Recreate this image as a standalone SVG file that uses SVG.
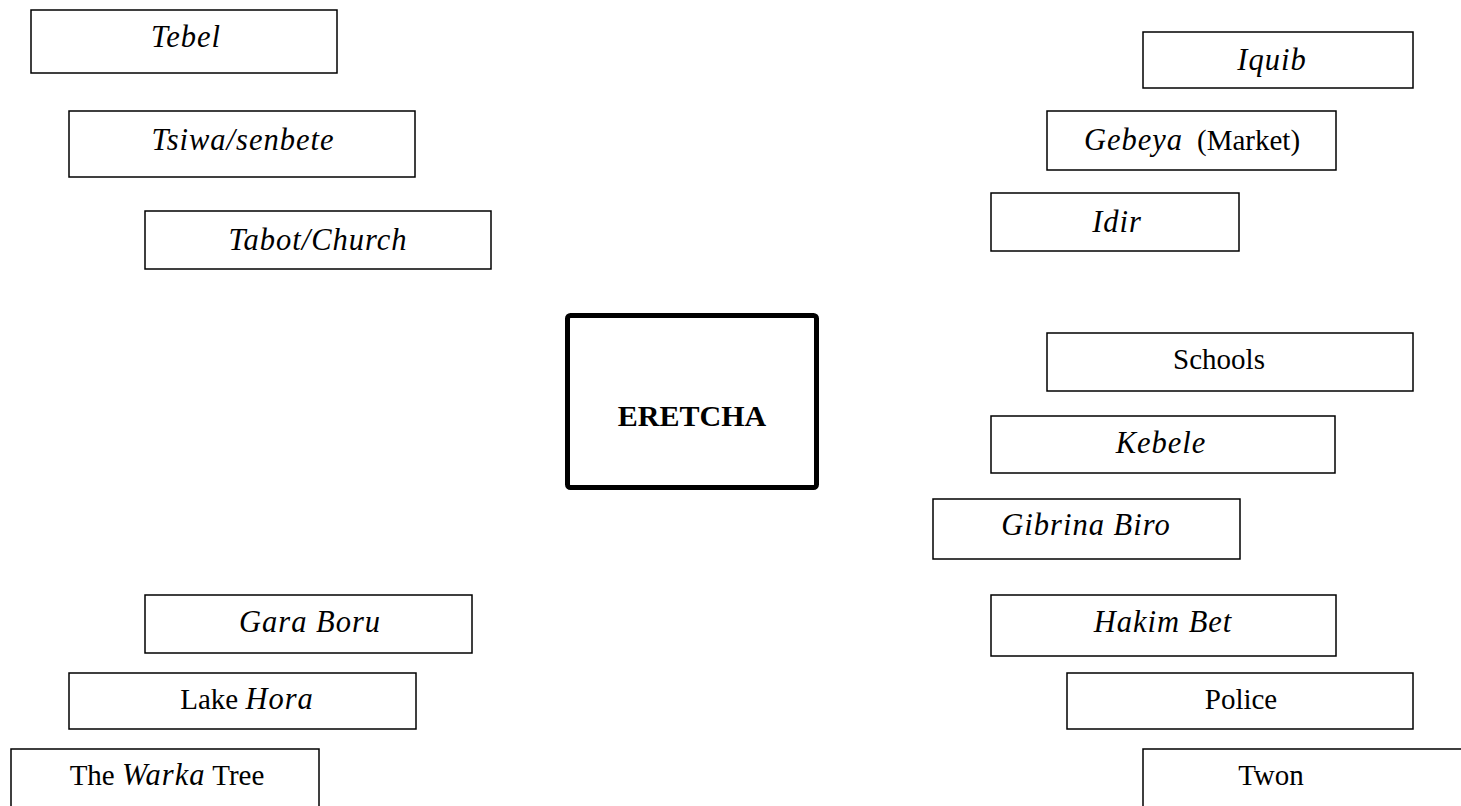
<svg xmlns="http://www.w3.org/2000/svg" width="1461" height="806" viewBox="0 0 1461 806">
<style>
.box{fill:#fff;stroke:#000;stroke-width:1.5}
.main{fill:#fff;stroke:#000;stroke-width:5}
text{font-family:"Liberation Serif","Times New Roman",serif;font-size:29px;fill:#000;text-anchor:middle}
.i{font-style:italic;font-size:30.5px;letter-spacing:1px}
.b{font-weight:bold;font-size:30px}
</style>
<rect width="1461" height="806" fill="#fff"/>
<g id="connectors"></g>
<g id="tebel"><rect class="box" x="31" y="10" width="306" height="63"/><text class="i" x="186" y="47">Tebel</text></g>
<g id="tsiwa"><rect class="box" x="69" y="111" width="346" height="66"/><text class="i" x="243" y="150">Tsiwa/senbete</text></g>
<g id="tabot"><rect class="box" x="145" y="211" width="346" height="58"/><text class="i" x="318" y="250">Tabot/Church</text></g>
<g id="iquib"><rect class="box" x="1143" y="32" width="270" height="56"/><text class="i" x="1272" y="70">Iquib</text></g>
<g id="gebeya"><rect class="box" x="1047" y="111" width="289" height="59"/><text x="1192" y="150"><tspan class="i">Gebeya</tspan><tspan dx="14">(Market)</tspan></text></g>
<g id="idir"><rect class="box" x="991" y="193" width="248" height="58"/><text class="i" x="1117" y="232">Idir</text></g>
<g id="eretcha"><rect class="main" x="567.5" y="315.5" width="249" height="172" rx="3"/><text class="b" x="692" y="426">ERETCHA</text></g>
<g id="schools"><rect class="box" x="1047" y="333" width="366" height="58"/><text x="1219" y="369">Schools</text></g>
<g id="kebele"><rect class="box" x="991" y="416" width="344" height="57"/><text class="i" x="1161" y="453">Kebele</text></g>
<g id="gibrina"><rect class="box" x="933" y="499" width="307" height="60"/><text class="i" x="1086" y="535">Gibrina Biro</text></g>
<g id="hakim"><rect class="box" x="991" y="595" width="345" height="61"/><text class="i" x="1163" y="632">Hakim Bet</text></g>
<g id="police"><rect class="box" x="1067" y="673" width="346" height="56"/><text x="1241" y="709">Police</text></g>
<g id="twon"><rect class="box" x="1143" y="749" width="340" height="80"/><text x="1271" y="785">Twon</text></g>
<g id="gara"><rect class="box" x="145" y="595" width="327" height="58"/><text class="i" x="310" y="632">Gara Boru</text></g>
<g id="lake"><rect class="box" x="69" y="673" width="347" height="56"/><text x="247" y="709">Lake <tspan class="i">Hora</tspan></text></g>
<g id="warka"><rect class="box" x="11" y="749" width="308" height="80"/><text x="167" y="785">The <tspan class="i">Warka</tspan> Tree</text></g>
</svg>
